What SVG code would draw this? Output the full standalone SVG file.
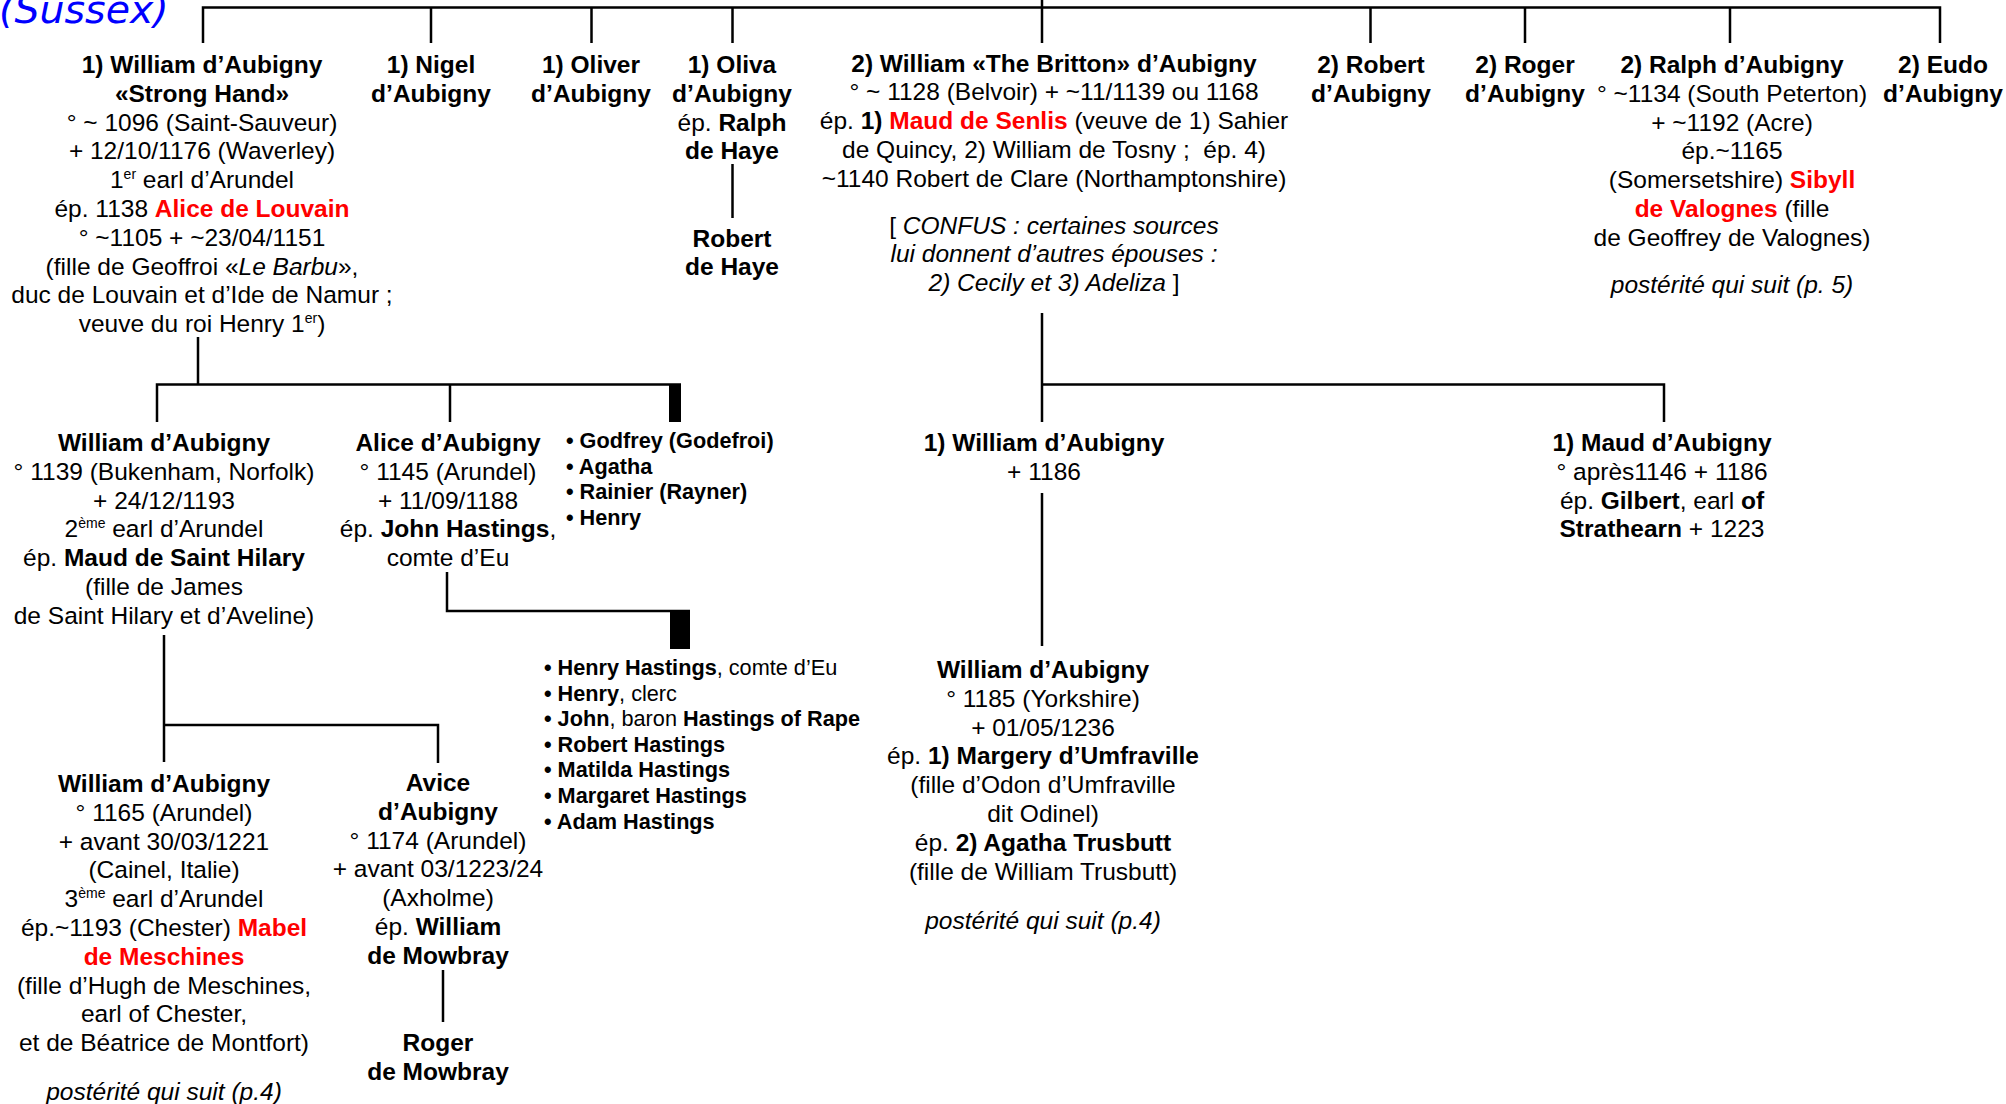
<svg xmlns="http://www.w3.org/2000/svg" width="2006" height="1104" viewBox="0 0 2006 1104">
<style>
text{font-family:"Liberation Sans",Arial,sans-serif;font-size:24.5px;fill:#000;text-anchor:middle}
.b{font-weight:bold}
.i{font-style:italic}
.u{font-style:normal}
.r{fill:#ff0000;font-weight:bold}
.n{font-weight:normal}
.sup{font-size:14px}
text.l{font-size:21.7px;font-weight:bold;text-anchor:start}
.title{font-family:"DejaVu Sans",Verdana,sans-serif;font-style:italic;font-size:39.5px;fill:#0000ff;text-anchor:start}
.c{fill:none;stroke:#000;stroke-width:2.5}
</style>
<rect width="2006" height="1104" fill="#fff"/>
<text class="title" x="-1" y="23">(Sussex)</text>
<g id="connectors">
<path class="c" d="M203,43V7.5H1940V43M431,7.5V43M591.5,7.5V43M732.5,7.5V43M1042,0V43M1370.5,7.5V43M1525,7.5V43M1730,7.5V43"/>
<path class="c" d="M732.5,164V218"/>
<path class="c" d="M1042,313V384.5H1664V422M1042,384.5V422M1042,493V646"/>
<path class="c" d="M198,337V384.5M157,422V384.5H681M450,384.5V422"/>
<rect x="669" y="384" width="12" height="38" fill="#000"/>
<path class="c" d="M447,572V611H690"/>
<rect x="670" y="610" width="20" height="39" fill="#000"/>
<path class="c" d="M164,635V762M164,725H438V763"/>
<path class="c" d="M443,970V1022"/>
</g>
<g id="n-william-strong-hand">
<text x="202" y="73" class="b">1) William d’Aubigny</text>
<text x="202" y="101.8" class="b">«Strong Hand»</text>
<text x="202" y="130.6">° ~ 1096 (Saint-Sauveur)</text>
<text x="202" y="159.4">+ 12/10/1176 (Waverley)</text>
<text x="202" y="188.2">1<tspan class="sup" dy="-9">er</tspan><tspan dy="9"> earl d’Arundel</tspan></text>
<text x="202" y="217">ép. 1138 <tspan class="r">Alice de Louvain</tspan></text>
<text x="202" y="245.8">° ~1105 + ~23/04/1151</text>
<text x="202" y="274.6">(fille de Geoffroi «<tspan class="i">Le Barbu</tspan>»,</text>
<text x="202" y="303.4">duc de Louvain et d’Ide de Namur ;</text>
<text x="202" y="332.2">veuve du roi Henry 1<tspan class="sup" dy="-9">er</tspan><tspan dy="9">)</tspan></text>
</g>
<g id="n-nigel">
<text x="431" y="73" class="b">1) Nigel</text>
<text x="431" y="101.8" class="b">d’Aubigny</text>
</g>
<g id="n-oliver">
<text x="591" y="73" class="b">1) Oliver</text>
<text x="591" y="101.8" class="b">d’Aubigny</text>
</g>
<g id="n-oliva">
<text x="732" y="73" class="b">1) Oliva</text>
<text x="732" y="101.8" class="b">d’Aubigny</text>
<text x="732" y="130.6">ép. <tspan class="b">Ralph</tspan></text>
<text x="732" y="159.4" class="b">de Haye</text>
</g>
<g id="n-robert-de-haye">
<text x="732" y="246.5" class="b">Robert</text>
<text x="732" y="275.3" class="b">de Haye</text>
</g>
<g id="n-william-britton">
<text x="1054" y="71.5" class="b">2) William «The Britton» d’Aubigny</text>
<text x="1054" y="100.3">° ~ 1128 (Belvoir) + ~11/1139 ou 1168</text>
<text x="1054" y="129.1">ép. <tspan class="b">1)</tspan> <tspan class="r">Maud de Senlis</tspan> (veuve de 1) Sahier</text>
<text x="1054" y="157.9" xml:space="preserve">de Quincy, 2) William de Tosny ;  ép. 4)</text>
<text x="1054" y="186.7">~1140 Robert de Clare (Northamptonshire)</text>
<text x="1054" y="233.5" class="i"><tspan class="u">[</tspan> CONFUS : certaines sources</text>
<text x="1054" y="262.3" class="i">lui donnent d’autres épouses :</text>
<text x="1054" y="291.1" class="i">2) Cecily et 3) Adeliza <tspan class="u">]</tspan></text>
</g>
<g id="n-robert">
<text x="1371" y="73" class="b">2) Robert</text>
<text x="1371" y="101.8" class="b">d’Aubigny</text>
</g>
<g id="n-roger">
<text x="1525" y="73" class="b">2) Roger</text>
<text x="1525" y="101.8" class="b">d’Aubigny</text>
</g>
<g id="n-ralph">
<text x="1732" y="73" class="b">2) Ralph d’Aubigny</text>
<text x="1732" y="101.8">° ~1134 (South Peterton)</text>
<text x="1732" y="130.6">+ ~1192 (Acre)</text>
<text x="1732" y="159.4">ép.~1165</text>
<text x="1732" y="188.2">(Somersetshire) <tspan class="r">Sibyll</tspan></text>
<text x="1732" y="217"><tspan class="r">de Valognes</tspan> (fille</text>
<text x="1732" y="245.8">de Geoffrey de Valognes)</text>
<text x="1732" y="292.5" class="i">postérité qui suit (p. 5)</text>
</g>
<g id="n-eudo">
<text x="1943" y="73" class="b">2) Eudo</text>
<text x="1943" y="101.8" class="b">d’Aubigny</text>
</g>
<g id="n-william-bukenham">
<text x="164" y="451" class="b">William d’Aubigny</text>
<text x="164" y="479.8">° 1139 (Bukenham, Norfolk)</text>
<text x="164" y="508.6">+ 24/12/1193</text>
<text x="164" y="537.4">2<tspan class="sup" dy="-9">ème</tspan><tspan dy="9"> earl d’Arundel</tspan></text>
<text x="164" y="566.2">ép. <tspan class="b">Maud de Saint Hilary</tspan></text>
<text x="164" y="595">(fille de James</text>
<text x="164" y="623.8">de Saint Hilary et d’Aveline)</text>
</g>
<g id="n-alice">
<text x="448" y="451" class="b">Alice d’Aubigny</text>
<text x="448" y="479.8">° 1145 (Arundel)</text>
<text x="448" y="508.6">+ 11/09/1188</text>
<text x="448" y="537.4">ép. <tspan class="b">John Hastings</tspan>,</text>
<text x="448" y="566.2">comte d’Eu</text>
</g>
<g id="n-godfrey-list">
<text class="l" x="566" y="448">• Godfrey (Godefroi)</text>
<text class="l" x="566" y="473.6">• Agatha</text>
<text class="l" x="566" y="499.2">• Rainier (Rayner)</text>
<text class="l" x="566" y="524.8">• Henry</text>
</g>
<g id="n-william-1186">
<text x="1044" y="451" class="b">1) William d’Aubigny</text>
<text x="1044" y="479.8">+ 1186</text>
</g>
<g id="n-maud">
<text x="1662" y="451" class="b">1) Maud d’Aubigny</text>
<text x="1662" y="479.8">° après1146 + 1186</text>
<text x="1662" y="508.6">ép. <tspan class="b">Gilbert</tspan>, earl <tspan class="b">of</tspan></text>
<text x="1662" y="537.4"><tspan class="b">Strathearn</tspan> + 1223</text>
</g>
<g id="n-hastings-list">
<text class="l" x="544" y="675">• Henry Hastings<tspan class="n">, comte d’Eu</tspan></text>
<text class="l" x="544" y="700.6">• Henry<tspan class="n">, clerc</tspan></text>
<text class="l" x="544" y="726.2">• John<tspan class="n">, baron </tspan>Hastings of Rape</text>
<text class="l" x="544" y="751.8">• Robert Hastings</text>
<text class="l" x="544" y="777.4">• Matilda Hastings</text>
<text class="l" x="544" y="803">• Margaret Hastings</text>
<text class="l" x="544" y="828.6">• Adam Hastings</text>
</g>
<g id="n-william-yorkshire">
<text x="1043" y="678" class="b">William d’Aubigny</text>
<text x="1043" y="706.8">° 1185 (Yorkshire)</text>
<text x="1043" y="735.6">+ 01/05/1236</text>
<text x="1043" y="764.4">ép. <tspan class="b">1) Margery d’Umfraville</tspan></text>
<text x="1043" y="793.2">(fille d’Odon d’Umfraville</text>
<text x="1043" y="822">dit Odinel)</text>
<text x="1043" y="850.8">ép. <tspan class="b">2) Agatha Trusbutt</tspan></text>
<text x="1043" y="879.6">(fille de William Trusbutt)</text>
<text x="1043" y="929" class="i">postérité qui suit (p.4)</text>
</g>
<g id="n-william-arundel">
<text x="164" y="792" class="b">William d’Aubigny</text>
<text x="164" y="820.8">° 1165 (Arundel)</text>
<text x="164" y="849.6">+ avant 30/03/1221</text>
<text x="164" y="878.4">(Cainel, Italie)</text>
<text x="164" y="907.2">3<tspan class="sup" dy="-9">ème</tspan><tspan dy="9"> earl d’Arundel</tspan></text>
<text x="164" y="936">ép.~1193 (Chester) <tspan class="r">Mabel</tspan></text>
<text x="164" y="964.8" class="r">de Meschines</text>
<text x="164" y="993.6">(fille d’Hugh de Meschines,</text>
<text x="164" y="1022.4">earl of Chester,</text>
<text x="164" y="1051.2">et de Béatrice de Montfort)</text>
<text x="164" y="1099.5" class="i">postérité qui suit (p.4)</text>
</g>
<g id="n-avice">
<text x="438" y="791" class="b">Avice</text>
<text x="438" y="819.8" class="b">d’Aubigny</text>
<text x="438" y="848.6">° 1174 (Arundel)</text>
<text x="438" y="877.4">+ avant 03/1223/24</text>
<text x="438" y="906.2">(Axholme)</text>
<text x="438" y="935">ép. <tspan class="b">William</tspan></text>
<text x="438" y="963.8" class="b">de Mowbray</text>
</g>
<g id="n-roger-mowbray">
<text x="438" y="1051" class="b">Roger</text>
<text x="438" y="1079.8" class="b">de Mowbray</text>
</g>
</svg>
